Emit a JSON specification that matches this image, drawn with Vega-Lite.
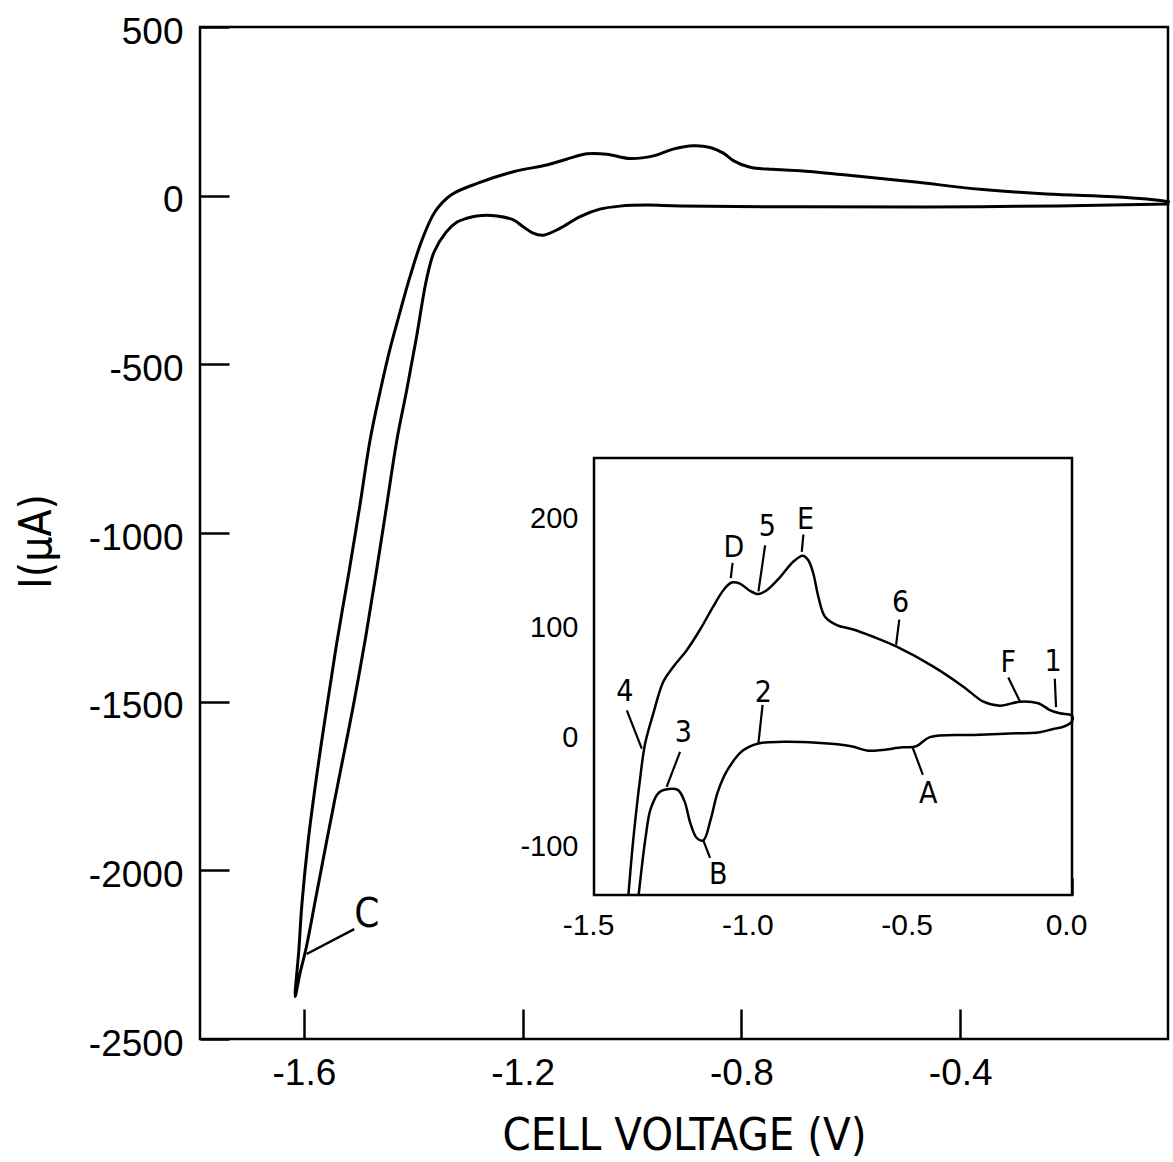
{
  "$schema": "https://vega.github.io/schema/vega-lite/v6.json",
  "width": 968,
  "height": 1012,
  "autosize": "none",
  "padding": {"left": 200, "top": 27, "right": 5, "bottom": 123},
  "background": "white",
  "config": {
    "view": {"stroke": "black", "strokeWidth": 2.5},
    "axis": {"grid": false, "domain": false, "labelColor": "black", "tickColor": "black", "tickWidth": 2.5, "labelFont": "Liberation Sans", "titleFont": "DejaVu Sans Condensed", "titleColor": "black", "titleFontWeight": "normal", "labelOverlap": false, "labelFlush": false, "labelBound": false}
  },
  "datasets": {
    "main": [
      {"seq": 1, "voltage": -0.020, "current": -25},
      {"seq": 2, "voltage": -0.364, "current": -33},
      {"seq": 3, "voltage": -0.693, "current": -33},
      {"seq": 4, "voltage": -0.912, "current": -31},
      {"seq": 5, "voltage": -0.973, "current": -28},
      {"seq": 6, "voltage": -1.022, "current": -31},
      {"seq": 7, "voltage": -1.059, "current": -40},
      {"seq": 8, "voltage": -1.095, "current": -62},
      {"seq": 9, "voltage": -1.132, "current": -97},
      {"seq": 10, "voltage": -1.162, "current": -117},
      {"seq": 11, "voltage": -1.181, "current": -111},
      {"seq": 12, "voltage": -1.199, "current": -92},
      {"seq": 13, "voltage": -1.217, "current": -72},
      {"seq": 14, "voltage": -1.247, "current": -60},
      {"seq": 15, "voltage": -1.284, "current": -60},
      {"seq": 16, "voltage": -1.302, "current": -67},
      {"seq": 17, "voltage": -1.320, "current": -78},
      {"seq": 18, "voltage": -1.340, "current": -108},
      {"seq": 19, "voltage": -1.362, "current": -167},
      {"seq": 20, "voltage": -1.376, "current": -250},
      {"seq": 21, "voltage": -1.394, "current": -418},
      {"seq": 22, "voltage": -1.412, "current": -576},
      {"seq": 23, "voltage": -1.430, "current": -724},
      {"seq": 24, "voltage": -1.449, "current": -922},
      {"seq": 25, "voltage": -1.468, "current": -1119},
      {"seq": 26, "voltage": -1.488, "current": -1317},
      {"seq": 27, "voltage": -1.510, "current": -1515},
      {"seq": 28, "voltage": -1.534, "current": -1712},
      {"seq": 29, "voltage": -1.558, "current": -1910},
      {"seq": 30, "voltage": -1.579, "current": -2088},
      {"seq": 31, "voltage": -1.596, "current": -2231},
      {"seq": 32, "voltage": -1.607, "current": -2304},
      {"seq": 33, "voltage": -1.616, "current": -2374},
      {"seq": 34, "voltage": -1.609, "current": -2231},
      {"seq": 35, "voltage": -1.604, "current": -2107},
      {"seq": 36, "voltage": -1.592, "current": -1910},
      {"seq": 37, "voltage": -1.576, "current": -1712},
      {"seq": 38, "voltage": -1.558, "current": -1515},
      {"seq": 39, "voltage": -1.539, "current": -1317},
      {"seq": 40, "voltage": -1.518, "current": -1119},
      {"seq": 41, "voltage": -1.498, "current": -922},
      {"seq": 42, "voltage": -1.479, "current": -724},
      {"seq": 43, "voltage": -1.460, "current": -576},
      {"seq": 44, "voltage": -1.443, "current": -457},
      {"seq": 45, "voltage": -1.425, "current": -349},
      {"seq": 46, "voltage": -1.406, "current": -240},
      {"seq": 47, "voltage": -1.384, "current": -131},
      {"seq": 48, "voltage": -1.360, "current": -47},
      {"seq": 49, "voltage": -1.331, "current": 2},
      {"seq": 50, "voltage": -1.282, "current": 37},
      {"seq": 51, "voltage": -1.217, "current": 71},
      {"seq": 52, "voltage": -1.156, "current": 91},
      {"seq": 53, "voltage": -1.120, "current": 108},
      {"seq": 54, "voltage": -1.083, "current": 124},
      {"seq": 55, "voltage": -1.046, "current": 123},
      {"seq": 56, "voltage": -1.004, "current": 110},
      {"seq": 57, "voltage": -0.961, "current": 118},
      {"seq": 58, "voltage": -0.925, "current": 138},
      {"seq": 59, "voltage": -0.888, "current": 148},
      {"seq": 60, "voltage": -0.857, "current": 143},
      {"seq": 61, "voltage": -0.833, "current": 126},
      {"seq": 62, "voltage": -0.815, "current": 104},
      {"seq": 63, "voltage": -0.784, "current": 84},
      {"seq": 64, "voltage": -0.742, "current": 78},
      {"seq": 65, "voltage": -0.693, "current": 74},
      {"seq": 66, "voltage": -0.608, "current": 61},
      {"seq": 67, "voltage": -0.486, "current": 41},
      {"seq": 68, "voltage": -0.364, "current": 19},
      {"seq": 69, "voltage": -0.242, "current": 5},
      {"seq": 70, "voltage": -0.120, "current": -3},
      {"seq": 71, "voltage": -0.059, "current": -10},
      {"seq": 72, "voltage": -0.019, "current": -18}
    ],
    "mainNotes": [
      {"label": "C", "lx": -1.485, "ly": -2132, "x1": -1.595, "y1": -2248, "x2": -1.508, "y2": -2174}
    ],
    "inset": [
      {"seq": 1, "voltage": -1.392, "current": -150},
      {"seq": 2, "voltage": -1.377, "current": -100},
      {"seq": 3, "voltage": -1.356, "current": -45},
      {"seq": 4, "voltage": -1.340, "current": -12},
      {"seq": 5, "voltage": -1.314, "current": 16},
      {"seq": 6, "voltage": -1.283, "current": 45},
      {"seq": 7, "voltage": -1.251, "current": 59},
      {"seq": 8, "voltage": -1.209, "current": 74},
      {"seq": 9, "voltage": -1.167, "current": 93},
      {"seq": 10, "voltage": -1.126, "current": 114},
      {"seq": 11, "voltage": -1.094, "current": 129},
      {"seq": 12, "voltage": -1.068, "current": 136},
      {"seq": 13, "voltage": -1.042, "current": 135},
      {"seq": 14, "voltage": -1.011, "current": 128.5},
      {"seq": 15, "voltage": -0.984, "current": 125.5},
      {"seq": 16, "voltage": -0.958, "current": 129},
      {"seq": 17, "voltage": -0.916, "current": 141},
      {"seq": 18, "voltage": -0.875, "current": 155},
      {"seq": 19, "voltage": -0.845, "current": 160.6},
      {"seq": 20, "voltage": -0.828, "current": 156.6},
      {"seq": 21, "voltage": -0.812, "current": 144.5},
      {"seq": 22, "voltage": -0.796, "current": 123},
      {"seq": 23, "voltage": -0.775, "current": 104.7},
      {"seq": 24, "voltage": -0.738, "current": 97},
      {"seq": 25, "voltage": -0.686, "current": 93},
      {"seq": 26, "voltage": -0.624, "current": 86.4},
      {"seq": 27, "voltage": -0.550, "current": 77.3},
      {"seq": 28, "voltage": -0.435, "current": 59},
      {"seq": 29, "voltage": -0.341, "current": 40.7},
      {"seq": 30, "voltage": -0.278, "current": 27},
      {"seq": 31, "voltage": -0.226, "current": 23.3},
      {"seq": 32, "voltage": -0.163, "current": 27},
      {"seq": 33, "voltage": -0.106, "current": 25.5},
      {"seq": 34, "voltage": -0.069, "current": 19.3},
      {"seq": 35, "voltage": -0.038, "current": 16.3},
      {"seq": 36, "voltage": 0.0, "current": 14},
      {"seq": 37, "voltage": 0.0, "current": 9},
      {"seq": 38, "voltage": -0.027, "current": 4},
      {"seq": 39, "voltage": -0.059, "current": 2},
      {"seq": 40, "voltage": -0.101, "current": -1},
      {"seq": 41, "voltage": -0.210, "current": -2.3},
      {"seq": 42, "voltage": -0.310, "current": -3.5},
      {"seq": 43, "voltage": -0.446, "current": -5.5},
      {"seq": 44, "voltage": -0.489, "current": -13.8},
      {"seq": 45, "voltage": -0.532, "current": -14.8},
      {"seq": 46, "voltage": -0.640, "current": -17.9},
      {"seq": 47, "voltage": -0.693, "current": -13.8},
      {"seq": 48, "voltage": -0.801, "current": -10.7},
      {"seq": 49, "voltage": -0.908, "current": -9.8},
      {"seq": 50, "voltage": -0.984, "current": -11.3},
      {"seq": 51, "voltage": -1.034, "current": -18},
      {"seq": 52, "voltage": -1.082, "current": -36},
      {"seq": 53, "voltage": -1.112, "current": -56},
      {"seq": 54, "voltage": -1.134, "current": -81},
      {"seq": 55, "voltage": -1.157, "current": -100},
      {"seq": 56, "voltage": -1.177, "current": -98},
      {"seq": 57, "voltage": -1.198, "current": -84},
      {"seq": 58, "voltage": -1.215, "current": -65},
      {"seq": 59, "voltage": -1.236, "current": -54},
      {"seq": 60, "voltage": -1.265, "current": -53},
      {"seq": 61, "voltage": -1.295, "current": -56},
      {"seq": 62, "voltage": -1.322, "current": -71},
      {"seq": 63, "voltage": -1.338, "current": -97},
      {"seq": 64, "voltage": -1.349, "current": -122},
      {"seq": 65, "voltage": -1.360, "current": -150}
    ],
    "insetNotes": [
      {"label": "4", "lx": -1.403, "ly": 36, "x1": -1.397, "y1": 19, "x2": -1.350, "y2": -16},
      {"label": "3", "lx": -1.220, "ly": -2, "x1": -1.230, "y1": -19, "x2": -1.272, "y2": -51},
      {"label": "B", "lx": -1.110, "ly": -132, "x1": -1.157, "y1": -100, "x2": -1.136, "y2": -116},
      {"label": "2", "lx": -0.969, "ly": 35, "x1": -0.971, "y1": 24, "x2": -0.984, "y2": -11},
      {"label": "D", "lx": -1.061, "ly": 168, "x1": -1.065, "y1": 154, "x2": -1.071, "y2": 140},
      {"label": "5", "lx": -0.956, "ly": 187, "x1": -0.963, "y1": 170, "x2": -0.984, "y2": 128},
      {"label": "E", "lx": -0.836, "ly": 193, "x1": -0.843, "y1": 180, "x2": -0.848, "y2": 164},
      {"label": "6", "lx": -0.538, "ly": 117, "x1": -0.542, "y1": 102, "x2": -0.552, "y2": 79},
      {"label": "F", "lx": -0.200, "ly": 62, "x1": -0.200, "y1": 49, "x2": -0.163, "y2": 27},
      {"label": "1", "lx": -0.059, "ly": 63, "x1": -0.054, "y1": 48, "x2": -0.050, "y2": 22},
      {"label": "A", "lx": -0.451, "ly": -58, "x1": -0.500, "y1": -15, "x2": -0.468, "y2": -40}
    ]
  },
  "layer": [
    {
      "data": {"name": "main"},
      "mark": {"type": "line", "color": "black", "strokeWidth": 3, "interpolate": "catmull-rom", "strokeCap": "round", "strokeJoin": "round"},
      "encoding": {
        "x": {"field": "voltage", "type": "quantitative", "scale": {"domain": [-1.79, -0.02], "nice": false, "zero": false},
          "axis": {"orient": "bottom", "values": [-1.6, -1.2, -0.8, -0.4], "labelExpr": "replace(format(datum.value, '.1f'), '\u2212', '-')", "tickSize": -30, "labelFontSize": 37, "labelPadding": 46, "title": "CELL VOLTAGE (V)", "titleFontSize": 45, "titleX": 484, "titleY": 110, "titleBaseline": "alphabetic", "titleAlign": "center"}},
        "y": {"field": "current", "type": "quantitative", "scale": {"domain": [-2500, 500], "nice": false, "zero": false},
          "axis": {"orient": "left", "values": [500, 0, -500, -1000, -1500, -2000, -2500], "labelExpr": "replace(format(datum.value, 'd'), '\u2212', '-')", "tickSize": -29, "labelFontSize": 37, "labelPadding": 46, "labelOffset": 5, "title": "I(μA)", "titleFontSize": 44, "titleX": -150, "titleY": 514, "titleAngle": -90, "titleBaseline": "alphabetic", "titleAlign": "center"}},
        "order": {"field": "seq", "type": "quantitative"}
      }
    },
    {
      "data": {"name": "mainNotes"},
      "mark": {"type": "rule", "color": "black", "strokeWidth": 2.5},
      "encoding": {
        "x": {"field": "x1", "type": "quantitative", "scale": {"domain": [-1.79, -0.02], "nice": false, "zero": false}, "axis": null},
        "y": {"field": "y1", "type": "quantitative", "scale": {"domain": [-2500, 500], "nice": false, "zero": false}, "axis": null},
        "x2": {"field": "x2"},
        "y2": {"field": "y2"}
      }
    },
    {
      "data": {"name": "mainNotes"},
      "mark": {"type": "text", "color": "black", "font": "DejaVu Sans Condensed", "fontSize": 40, "align": "center", "baseline": "middle"},
      "encoding": {
        "x": {"field": "lx", "type": "quantitative", "scale": {"domain": [-1.79, -0.02], "nice": false, "zero": false}, "axis": null},
        "y": {"field": "ly", "type": "quantitative", "scale": {"domain": [-2500, 500], "nice": false, "zero": false}, "axis": null},
        "text": {"field": "label"}
      }
    },
    {
      "data": {"values": [{}]},
      "mark": {"type": "rect", "fill": "white", "stroke": "black", "strokeWidth": 2.5},
      "encoding": {
        "x": {"datum": -1.5, "type": "quantitative", "scale": {"domain": [-1.5, 0], "range": [394, 872], "nice": false, "zero": false},
          "axis": {"orient": "bottom", "offset": -144, "values": [-1.5, -1.0, -0.5, 0.0], "labelExpr": "replace(format(datum.value, '.1f'), '\u2212', '-')", "tickSize": -17, "labelFontSize": 30, "labelPadding": 32, "labelOffset": -6, "title": null}},
        "x2": {"datum": 0},
        "y": {"datum": -150, "type": "quantitative", "scale": {"domain": [-150, 250], "range": [868, 431], "nice": false, "zero": false},
          "axis": {"orient": "left", "offset": -394, "values": [-100, 0, 100, 200], "labelExpr": "replace(format(datum.value, 'd'), '\u2212', '-')", "tickSize": -20, "labelFontSize": 29, "labelPadding": 36, "labelOffset": 6, "title": null}},
        "y2": {"datum": 250}
      }
    },
    {
      "data": {"name": "inset"},
      "mark": {"type": "line", "color": "black", "strokeWidth": 2.5, "interpolate": "catmull-rom", "strokeCap": "round", "strokeJoin": "round"},
      "encoding": {
        "x": {"field": "voltage", "type": "quantitative", "scale": {"domain": [-1.5, 0], "range": [394, 872], "nice": false, "zero": false}, "axis": null},
        "y": {"field": "current", "type": "quantitative", "scale": {"domain": [-150, 250], "range": [868, 431], "nice": false, "zero": false}, "axis": null},
        "order": {"field": "seq", "type": "quantitative"}
      }
    },
    {
      "data": {"name": "insetNotes"},
      "mark": {"type": "rule", "color": "black", "strokeWidth": 2.2},
      "encoding": {
        "x": {"field": "x1", "type": "quantitative", "scale": {"domain": [-1.5, 0], "range": [394, 872], "nice": false, "zero": false}, "axis": null},
        "y": {"field": "y1", "type": "quantitative", "scale": {"domain": [-150, 250], "range": [868, 431], "nice": false, "zero": false}, "axis": null},
        "x2": {"field": "x2"},
        "y2": {"field": "y2"}
      }
    },
    {
      "data": {"name": "insetNotes"},
      "mark": {"type": "text", "color": "black", "font": "DejaVu Sans Condensed", "fontSize": 30, "align": "center", "baseline": "middle"},
      "encoding": {
        "x": {"field": "lx", "type": "quantitative", "scale": {"domain": [-1.5, 0], "range": [394, 872], "nice": false, "zero": false}, "axis": null},
        "y": {"field": "ly", "type": "quantitative", "scale": {"domain": [-150, 250], "range": [868, 431], "nice": false, "zero": false}, "axis": null},
        "text": {"field": "label"}
      }
    }
  ],
  "resolve": {"scale": {"x": "independent", "y": "independent"}, "axis": {"x": "independent", "y": "independent"}}
}
